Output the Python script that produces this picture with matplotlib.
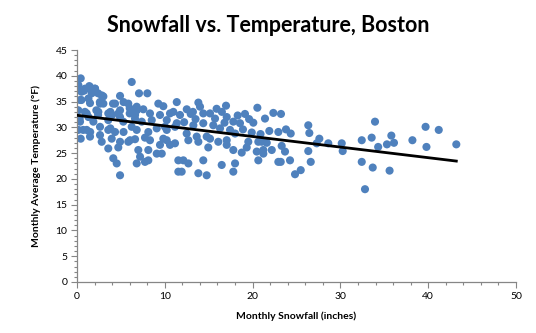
import numpy as np
import matplotlib
matplotlib.use("Agg")
import matplotlib.pyplot as plt
from matplotlib.ticker import MultipleLocator

# monthly snowfall (inches) and monthly average temperature (F)
snowfall = [
    0.42, 0.03, 1.40, 2.05, 0.80, 2.81, 1.67, 6.23, 7.06, 8.01, 4.90,
    0.34, 1.48, 2.62, 4.33, 5.84, 6.80, 7.55, 9.26, 9.83, 11.36,
    0.15, 1.10, 2.43, 3.56, 4.70, 6.23, 6.61, 8.31, 9.45, 10.97,
    0.34, 1.86, 3.56, 5.27, 7.37, 8.51, 10.22, 11.36,
    0.15, 1.10, 2.62, 3.56, 6.23, 6.80, 8.12, 9.08, 10.22, 11.16,
    0.42, 1.48, 2.62, 4.33, 3.95, 4.90, 6.04, 6.61, 7.74, 8.31, 9.83, 10.59,
    2.81, 3.56, 4.70, 5.84, 6.98, 8.12, 9.45, 10.22, 9.08,
    4.13, 4.52, 6.80, 7.18, 7.74, 8.12, 4.90, 11.54, 11.54,
    13.82, 14.01, 16.97, 20.54, 22.36,
    10.59, 11.73, 12.95, 14.38, 15.15, 15.72, 17.05, 19.13, 21.41,
    17.80, 18.56, 20.08,
    10.02, 13.25, 14.38, 15.52, 16.29, 17.43, 18.00,
    12.49, 13.63, 14.77,
    11.16, 12.68, 13.82, 15.15, 16.09, 17.05, 19.51, 20.65, 21.61,
    9.65, 14.95, 17.05, 17.80, 18.76, 19.33, 20.47, 21.22, 22.18,
    20.65, 22.93, 12.11, 12.68, 14.38, 16.48, 18.00,
    11.92, 13.82, 14.77, 17.80,
    23.23, 22.93, 23.80, 24.34, 26.34, 26.46, 27.60, 27.30, 28.62, 30.15, 30.26,
    32.43, 33.56, 33.94, 21.04, 21.22, 23.31, 23.69, 24.26, 23.20, 24.83, 25.48,
    26.34, 26.62, 32.43, 33.68, 32.80,
    34.3, 35.3, 35.8, 36.1, 38.2, 39.7, 41.2, 39.8, 43.2, 35.6,
    # extra points in the dense upper-left cluster
    0.15, 0.9, 1.5, 2.05, 0.5, 1.7, 2.4, 3.0,
    0.5, 1.3, 2.6, 3.0, 4.1, 5.3,
    0.0, 0.9, 2.2, 3.8, 4.9, 6.0, 6.8,
    0.3, 1.3, 2.4, 4.0, 4.9, 6.0, 6.6,
    0.7, 1.5, 3.8, 5.3,
    12.5, 13.2, 15.9, 16.5, 18.3, 19.6, 13.5, 12.2, 16.8, 18.9, 19.9, 20.9, 21.9,
]
temperature = [
    39.5, 38.0, 38.0, 37.5, 37.1, 36.2, 36.6, 38.8, 36.6, 36.6, 36.1,
    35.3, 34.7, 34.6, 34.6, 34.6, 34.0, 33.5, 34.6, 34.1, 34.9,
    33.3, 32.7, 33.0, 32.7, 32.7, 33.3, 32.4, 32.7, 32.4, 33.0,
    31.1, 31.1, 31.4, 31.1, 31.1, 31.4, 31.4, 30.8,
    29.5, 29.5, 30.1, 29.5, 30.1, 29.5, 29.1, 29.8, 29.5, 30.1,
    27.8, 28.2, 28.5, 29.1, 27.8, 27.2, 27.5, 27.7, 28.0, 27.5, 27.8, 26.6,
    27.2, 25.9, 26.1, 27.2, 25.6, 25.6, 26.6, 27.5, 24.9,
    24.0, 23.0, 23.0, 24.3, 23.3, 23.6, 20.7, 21.4, 23.6,
    34.8, 34.0, 34.2, 33.8, 32.8,
    32.7, 32.4, 32.6, 32.7, 32.7, 31.7, 32.0, 32.6, 31.7,
    31.1, 30.8, 30.9,
    30.1, 30.4, 30.8, 30.4, 29.8, 29.5, 28.8,
    28.8, 28.2, 28.2,
    26.9, 27.5, 27.2, 27.8, 27.2, 27.5, 27.2, 27.2, 27.0,
    24.9, 26.1, 26.6, 25.6, 25.1, 26.1, 25.3, 25.6, 25.6,
    23.6, 23.3, 23.6, 23.0, 23.6, 22.7, 23.0,
    21.4, 21.1, 20.7, 21.4,
    32.6, 29.1, 29.6, 28.8, 30.4, 28.9, 27.8, 26.9, 26.9, 26.9, 25.4,
    27.5, 28.0, 31.1, 27.2, 24.9, 26.4, 25.3, 23.6, 23.3, 20.9, 21.7,
    25.4, 23.3, 23.3, 22.2, 18.0,
    26.2, 26.7, 28.4, 27.0, 27.5, 30.1, 29.5, 26.2, 26.7, 21.6,
    38.2, 37.5, 37.8, 37.5, 36.9, 36.9, 36.6, 36.0,
    35.3, 35.6, 34.9, 34.6, 34.6, 34.9,
    33.3, 33.0, 33.3, 33.0, 33.3, 33.7, 33.3,
    31.7, 32.0, 32.4, 32.4, 32.0, 32.7, 31.7,
    29.5, 29.1, 29.8, 29.1,
    33.5, 33.0, 33.6, 33.0, 32.3, 31.6, 31.6, 31.0, 30.9, 29.6, 29.0, 28.7, 29.3,
]

title = "Snowfall vs. Temperature, Boston"
xlabel = "Monthly Snowfall (inches)"
ylabel = "Monthly Average Temperature (\u00b0F)"

plt.rcParams['font.family'] = ['Lato', 'DejaVu Sans']

x = np.array(snowfall)
y = np.array(temperature)

fig = plt.figure(figsize=(5.36, 3.33), dpi=100)
ax = fig.add_axes([0.1437, 0.1532, 0.8190, 0.6966])

ax.scatter(x, y, s=34, color='#4f81bd', edgecolors='none', zorder=2)

# linear trendline over the data range
slope, intercept = np.polyfit(x, y, 1)
xs = np.array([x.min(), x.max()])
ax.plot(xs, intercept + slope * xs, color='black', linewidth=2, zorder=3)

ax.set_xlim(0, 50)
ax.set_ylim(0, 45)
ax.xaxis.set_major_locator(MultipleLocator(10))
ax.xaxis.set_minor_locator(MultipleLocator(2))
ax.yaxis.set_major_locator(MultipleLocator(5))
ax.yaxis.set_minor_locator(MultipleLocator(1))

for side in ['top', 'right']:
    ax.spines[side].set_visible(False)
for side in ['left', 'bottom']:
    ax.spines[side].set_color('#868686')
    ax.spines[side].set_linewidth(0.9)

ax.tick_params(which='major', direction='out', length=4, width=0.8,
               color='#868686', labelsize=7.5, pad=3)
ax.tick_params(which='minor', direction='out', length=2.5, width=0.8,
               color='#868686')

fig.suptitle(title, x=0.5, y=0.955, fontsize=15.5, fontweight='bold')
ax.set_xlabel(xlabel, fontsize=7.5, fontweight='bold', labelpad=8)
ax.set_ylabel(ylabel, fontsize=7.5, fontweight='bold', labelpad=10)

fig.savefig('out.png', dpi=100)
print(slope, intercept)
